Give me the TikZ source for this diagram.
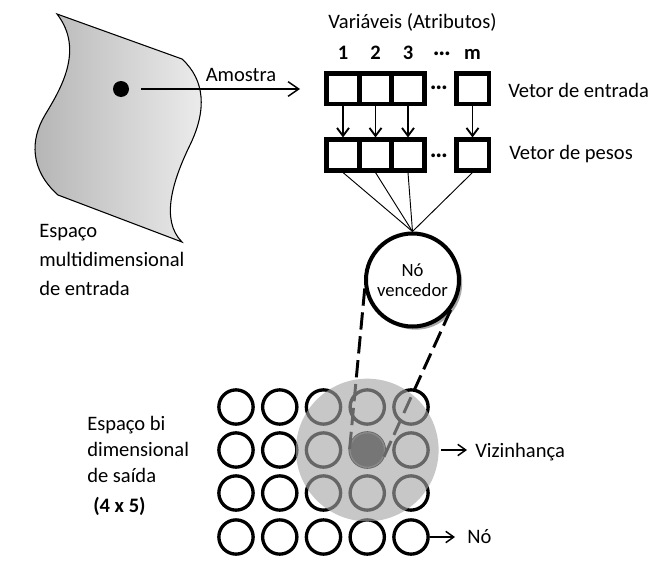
\documentclass[tikz,border=0pt]{standalone}
\usepackage{fontspec}
\setmainfont{Carlito}
\usepackage{xcolor}
\definecolor{spacedark}{HTML}{B4B4B4}
\definecolor{spacelight}{HTML}{EDEDED}
\definecolor{hoodgray}{HTML}{A5A5A5}
\definecolor{bestfill}{HTML}{2C2C2C}
\definecolor{bestring}{HTML}{5E5E5E}
\definecolor{shadowgray}{HTML}{A8A8A8}
\usetikzlibrary{arrows.meta,positioning,shadows}

\begin{document}
\begin{tikzpicture}[x=0.75pt,y=-0.75pt,
  font=\fontsize{15.4}{21.75}\selectfont,
  lbl/.style={inner sep=0pt},
  gapdots/.style={inner sep=0pt,font=\fontsize{19}{19}\selectfont\bfseries},
  cell/.style={draw,line width=3.4pt,minimum width=24.4pt,minimum height=22.9pt,inner sep=0pt},
  unit/.style={circle,draw,line width=2.5pt,minimum size=25.7pt,inner sep=0pt},
  barb/.style={-{Straight Barb[length=6pt,width=9pt]},line width=1.4pt},
  ptr/.style={-{Straight Barb[length=6pt,width=8.5pt]},line width=1.1pt},
  link/.style={line width=0.7pt}]
  \useasboundingbox (0,0) rectangle (663,578);
  % input space with the sample
  \shade[left color=spacedark,right color=spacelight,draw=black,line width=0.8pt]
    (57,14) -- (182,59) .. controls (205,80) and (207,110) .. (190,145)
    .. controls (173,180) and (160,220) .. (182,242) -- (58,195)
    .. controls (30,170) and (30,140) .. (45,115)
    .. controls (60,90) and (85,50) .. (57,14) -- cycle;
  \node[circle,fill=black,minimum size=12pt,inner sep=0pt] (sample) at (121,89) {};
  \coordinate (sample-end) at (300,89);
  \draw[-{Straight Barb[length=8pt,width=11pt]},line width=1.1pt,shorten <=9pt]
    (sample) -- (sample-end);
  \node[lbl,anchor=base] (amostra) at (241,81.5) {Amostra};
  \node[lbl,anchor=base west,align=left] (inspace) at (39,295)
    {Espaço\\multidimensional\\de entrada};
  % input and weight vectors
  \node[lbl,anchor=base] (vars) at (412.5,28) {Variáveis (Atributos)};
  \foreach \i/\x in {1/343,2/375.5,3/408,m/472.5} {
    \node[lbl,anchor=base] (num\i) at (\x,59) {\textbf{\i}};
    \node[cell] (in\i) at (\x,88.5) {};
    \node[cell] (w\i) at (\x,155) {};
    \draw[barb] (in\i) -- (w\i);
  }
  \node[gapdots] (gap-num) at (442,54) {…};
  \node[gapdots] (gap-in) at (439,88) {…};
  \node[gapdots] (gap-w) at (439,156) {…};
  \node[lbl,anchor=base west] (in-lbl) at (508,97) {Vetor de entrada};
  \node[lbl,anchor=base west] (w-lbl) at (509,159.5) {Vetor de pesos};
  % winning node
  \node[circle,draw,fill=white,line width=3pt,minimum size=69.75pt,inner sep=0pt,
    align=center,font=\fontsize{14}{15}\selectfont,
    drop shadow={shadow xshift=2.4pt,shadow yshift=-2.4pt,fill=shadowgray,opacity=1}]
    (winner) at (412.5,280) {Nó\\vencedor};
  \foreach \i in {1,2,3,m}
    \draw[link] (w\i.south) -- (winner.north);
  % output grid 4 x 5
  \foreach \r/\y in {1/407,2/450,3/493,4/537}
    \foreach \c/\x in {1/236,2/279.75,3/323.5,4/367.25,5/411}
      \node[unit] (u\r\c) at (\x,\y) {};
  \node[circle,fill=bestfill,draw=bestring,line width=1pt,minimum size=26pt,inner sep=0pt]
    (best) at (u24) {};
  \draw[line width=2.2pt,dash pattern=on 13pt off 5pt] (winner.190) -- (best.186);
  \draw[line width=2.2pt,dash pattern=on 13pt off 5pt] (winner.322) -- (best.335);
  % neighbourhood, laid over the grid
  \node[circle,fill=hoodgray,fill opacity=0.62,minimum size=107pt,inner sep=0pt,outer sep=0pt]
    (hood) at (u24) {};
  \node[lbl,anchor=base west] (viz) at (475,457) {Vizinhança};
  \draw[ptr,shorten <=2pt,shorten >=6pt] (hood.east) -- (hood.east -| viz.west);
  \node[lbl,anchor=base west] (no) at (467,543) {Nó};
  \draw[ptr,shorten >=9pt] (u45.east) -- (u45.east -| no.west);
  \node[lbl,anchor=base west,align=left,font=\fontsize{15.4}{19.5}\selectfont]
    (outspace) at (87,512) {Espaço bi\\dimensional\\de saída\\[3pt]\hspace*{4.5pt}\textbf{(4 x 5)}};
\end{tikzpicture}
\end{document}
